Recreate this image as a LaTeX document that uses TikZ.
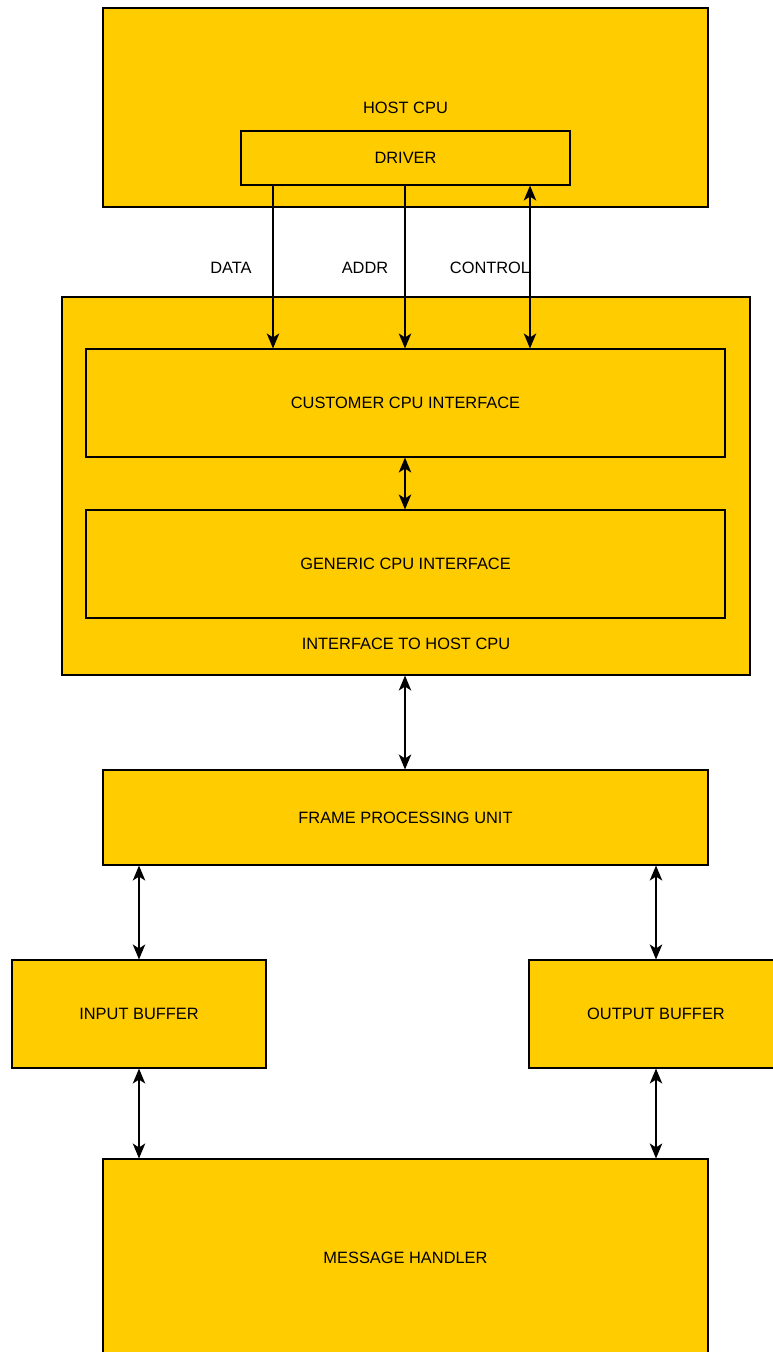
\documentclass[tikz,border=0pt]{standalone}
\usepackage{fontspec}
\setmainfont{Liberation Sans}
\usetikzlibrary{arrows.meta}
\definecolor{blockfill}{HTML}{FFCC00}
\tikzset{
  block/.style={draw=black, fill=blockfill, line width=1.1pt, inner sep=0pt, font=\fontsize{16.4}{19}\selectfont},
  lbl/.style={inner sep=0pt, font=\fontsize{16.4}{19}\selectfont},
  link/.style={line width=1.2pt, -{Stealth[length=15pt, width=12.5pt, inset=4pt]}},
  blink/.style={line width=1.2pt, {Stealth[length=15pt, width=12.5pt, inset=4pt]}-{Stealth[length=15pt, width=12.5pt, inset=4pt]}}
}
\begin{document}
\begin{tikzpicture}[x=1pt, y=-1pt]
\useasboundingbox (0,0) rectangle (773,1352);
\clip (0,0) rectangle (773,1352);
% host processor with its driver
\node[block, minimum width=605pt, minimum height=199pt] (host) at (405.5,107.5) {};
\node[lbl] (hostlbl) at (405.5,108) {HOST CPU};
\node[block, minimum width=329pt, minimum height=54pt] (driver) at (405.5,158) {DRIVER};
% interface block
\node[block, minimum width=688pt, minimum height=378pt] (iface) at (406,486) {};
\node[lbl] (ifacelbl) at (406,644) {INTERFACE TO HOST CPU};
\node[block, minimum width=639pt, minimum height=108pt] (cust) at (405.5,403) {CUSTOMER CPU INTERFACE};
\node[block, minimum width=639pt, minimum height=108pt] (gen) at (405.5,564) {GENERIC CPU INTERFACE};
% processing chain
\node[block, minimum width=605pt, minimum height=95pt] (fpu) at (405.5,817.5) {FRAME PROCESSING UNIT};
\node[block, minimum width=254pt, minimum height=108pt] (inbuf) at (139,1014) {INPUT BUFFER};
\node[block, minimum width=254pt, minimum height=108pt] (outbuf) at (656,1014) {OUTPUT BUFFER};
\node[block, minimum width=605pt, minimum height=198pt] (msg) at (405.5,1258) {MESSAGE HANDLER};
% bus columns
\coordinate (xdata) at (273,0);
\coordinate (xaddr) at (405,0);
\coordinate (xctrl) at (530,0);
\coordinate (xin) at (139,0);
\coordinate (xout) at (656,0);
% bus labels
\node[lbl] (datalbl) at (231,268) {DATA};
\node[lbl] (addrlbl) at (365,268) {ADDR};
\node[lbl] (ctrllbl) at (490,268) {CONTROL};
% connectors
\draw[link] (driver.south -| xdata) -- (cust.north -| xdata);
\draw[link] (driver.south -| xaddr) -- (cust.north -| xaddr);
\draw[blink] (driver.south -| xctrl) -- (cust.north -| xctrl);
\draw[blink] (cust.south -| xaddr) -- (gen.north -| xaddr);
\draw[blink] (iface.south -| xaddr) -- (fpu.north -| xaddr);
\draw[blink] (fpu.south -| xin) -- (inbuf.north -| xin);
\draw[blink] (fpu.south -| xout) -- (outbuf.north -| xout);
\draw[blink] (inbuf.south -| xin) -- (msg.north -| xin);
\draw[blink] (outbuf.south -| xout) -- (msg.north -| xout);
\end{tikzpicture}
\end{document}
